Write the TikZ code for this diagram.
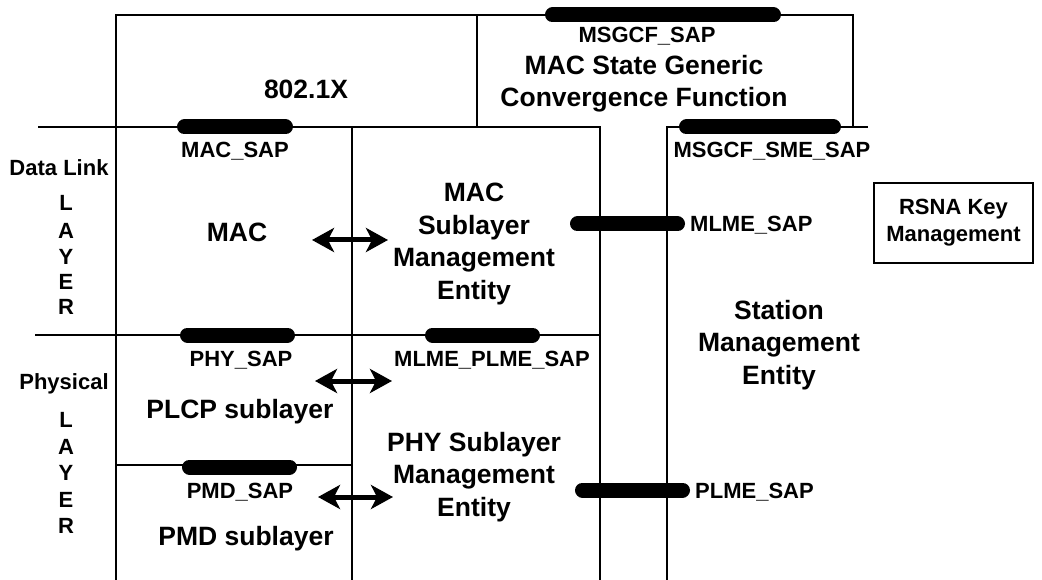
\documentclass[tikz,border=0pt]{standalone}
\usepackage{fontspec}
\setmainfont{Liberation Sans}
\usetikzlibrary{arrows.meta}
\begin{document}
\begin{tikzpicture}[x=1pt,y=-1pt,
  ln/.style={line width=2.8pt},
  pill/.style={line width=15pt,line cap=round},
  big/.style={font=\bfseries\fontsize{26.5}{32.5}\selectfont,align=center,anchor=base,inner sep=0pt},
  small/.style={font=\bfseries\fontsize{22}{27}\selectfont,align=center,anchor=base,inner sep=0pt},
  lbl/.style={font=\bfseries\fontsize{22}{27}\selectfont,anchor=base west,inner sep=0pt},
  dbl/.style={line width=5pt,{Stealth[length=22pt,width=24pt,inset=6pt]}-{Stealth[length=22pt,width=24pt,inset=6pt]}},
  boxed/.style={draw,line width=1.8pt,minimum width=159pt,minimum height=80pt,align=center,inner sep=0pt,font=\bfseries\fontsize{22}{27}\selectfont}]
\useasboundingbox (0,0) rectangle (1042,580);
% frame lines
\draw[ln] (116,580) -- (116,15) -- (853,15) -- (853,127);
\draw[ln] (477,15) -- (477,127);
\draw[ln] (38,127) -- (600,127) -- (600,580);
\draw[ln] (667,580) -- (667,127) -- (868,127);
\draw[ln] (352,127) -- (352,580);
\draw[ln] (35,335) -- (600,335);
\draw[ln] (116,465) -- (352,465);
% SAP pills
\coordinate (p1a) at (552.5,15);  \coordinate (p1b) at (773.5,15);
\coordinate (p2a) at (184.5,127); \coordinate (p2b) at (285.5,127);
\coordinate (p3a) at (686.5,127); \coordinate (p3b) at (833.5,127);
\coordinate (p4a) at (577.5,224); \coordinate (p4b) at (677.5,224);
\coordinate (p5a) at (187.5,335); \coordinate (p5b) at (287.5,335);
\coordinate (p6a) at (432.5,335); \coordinate (p6b) at (532.5,335);
\coordinate (p7a) at (189.5,467); \coordinate (p7b) at (289.5,467);
\coordinate (p8a) at (582.5,490); \coordinate (p8b) at (682.5,490);
\foreach \p in {1,...,8} {\draw[pill] (p\p a) -- (p\p b);}
% arrows
\coordinate (a1l) at (312,240); \coordinate (a1r) at (388,240);
\coordinate (a2l) at (315,381); \coordinate (a2r) at (392,381);
\coordinate (a3l) at (318,497); \coordinate (a3r) at (393,497);
\draw[dbl] (a1l) -- (a1r);
\draw[dbl] (a2l) -- (a2r);
\draw[dbl] (a3l) -- (a3r);
% big labels (base = baseline of last line)
\node[big] (x8021) at (306,99) {802.1X};
\node[big] (msgcf) at (644,107) {MAC State Generic\\Convergence Function};
\node[big] (mac) at (237,242) {MAC};
\node[big] (mlme) at (474,299) {MAC\\Sublayer\\Management\\Entity};
\node[big] (sme) at (779,384) {Station\\Management\\Entity};
\node[big] (plcp) at (240,418) {PLCP sublayer};
\node[big] (pmd) at (246,545) {PMD sublayer};
\node[big] (plme) at (474,516) {PHY Sublayer\\Management\\Entity};
% small labels
\node[small] (lmsgcfsap) at (647,42.5) {MSGCF\_SAP};
\node[small] (lmacsap) at (235,158) {MAC\_SAP};
\node[small] (lsmesap) at (772,158) {MSGCF\_SME\_SAP};
\node[small] (datalink) at (59,176) {Data Link};
\node[small] (l1) at (66,211) {L};
\node[small] (l2) at (66,239) {A};
\node[small] (l3) at (66,265) {Y};
\node[small] (l4) at (66,290) {E};
\node[small] (l5) at (66,315) {R};
\node[lbl] (lmlmesap) at (690,232) {MLME\_SAP};
\node[boxed] (rsna) at (953.5,223) {RSNA Key\\Management};
\node[small] (lphysap) at (241,366) {PHY\_SAP};
\node[small] (lmpsap) at (492,366) {MLME\_PLME\_SAP};
\node[small] (physical) at (64,389) {Physical};
\node[small] (m1) at (66,427) {L};
\node[small] (m2) at (66,454) {A};
\node[small] (m3) at (66,480) {Y};
\node[small] (m4) at (66,507) {E};
\node[small] (m5) at (66,533) {R};
\node[small] (lpmdsap) at (240,498) {PMD\_SAP};
\node[lbl] (lplmesap) at (695,498) {PLME\_SAP};
\end{tikzpicture}
\end{document}
